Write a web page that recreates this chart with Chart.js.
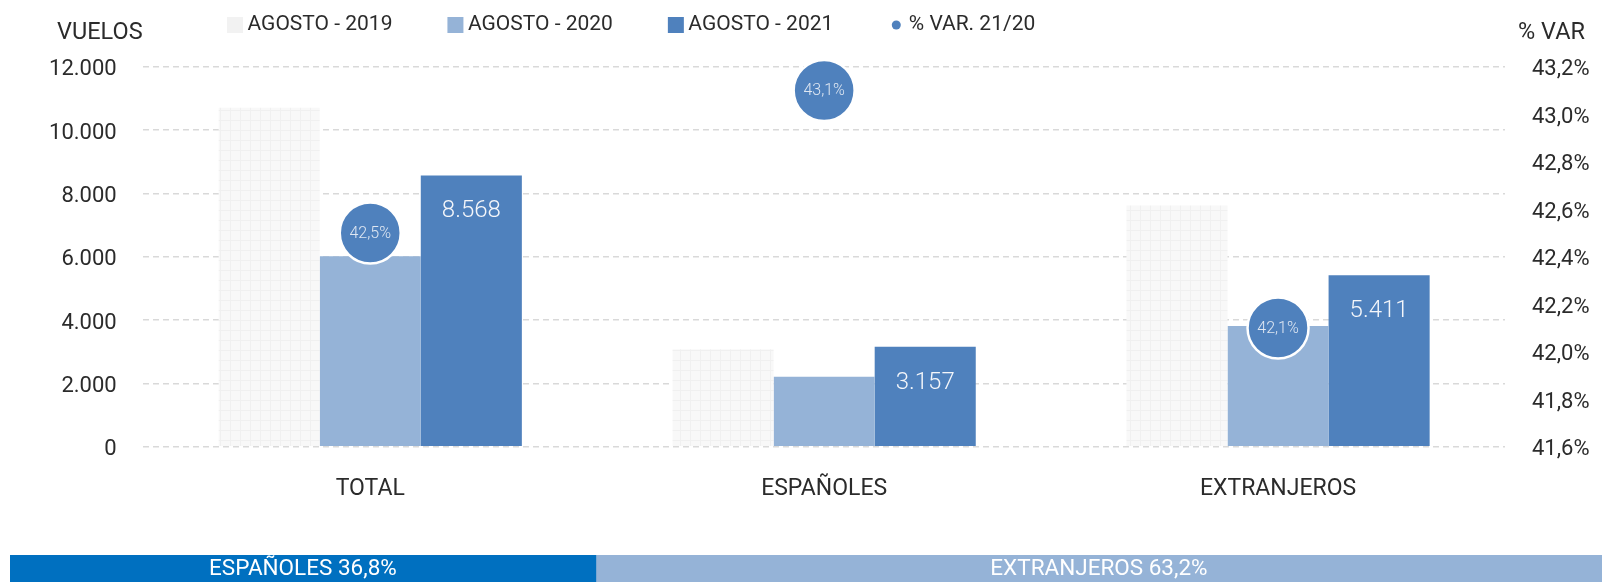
<!DOCTYPE html>
<html lang="es">

<head>
    <meta charset="UTF-8">
    <title>Vuelos agosto</title>
    <script src="https://cdn.jsdelivr.net/npm/chart.js"></script>
    <style>
        body {
            margin: 0;
            background: white;
            width: 1602px;
            height: 582px;
            overflow: hidden;
            position: relative;
        }

        .main-box {
            position: absolute;
            left: 0;
            top: 0;
            width: 1602px;
            height: 530px;
        }

        .strip-box {
            position: absolute;
            left: 10px;
            top: 555px;
            width: 1592px;
            height: 27px;
        }
    </style>
</head>

<body>
    <div class="main-box"><canvas id="vuelosChart"></canvas></div>
    <div class="strip-box"><canvas id="shareChart"></canvas></div>

    <script>
        // data
        const categories = ['TOTAL', 'ESPAÑOLES', 'EXTRANJEROS'];
        const seriesNames = ['AGOSTO - 2019', 'AGOSTO - 2020', 'AGOSTO - 2021', '% VAR. 21/20'];
        const vuelos2019 = [10700, 3080, 7620];
        const vuelos2020 = [6013, 2206, 3808];
        const vuelos2021 = [8568, 3157, 5411];
        const varPct = [42.5, 43.1, 42.1];

        const shareLabels = ['ESPAÑOLES', 'EXTRANJEROS'];
        const shareValues = [36.8, 63.2];

        const FONT = 'Roboto, "Liberation Sans", sans-serif';
        const TEXT = '#2b2b2b';
        const BLUE = '#4f81bd';
        const LIGHT_BLUE = '#95b3d7';

        function fmtMiles(v) {
            return String(Math.round(v)).replace(/\B(?=(\d{3})+(?!\d))/g, '.');
        }
        function fmtPct(v) {
            return v.toFixed(1).replace('.', ',') + '%';
        }

        // faint grid texture for the 2019 bars
        function gridPattern() {
            const c = document.createElement('canvas');
            c.width = 10;
            c.height = 10;
            const g = c.getContext('2d');
            g.fillStyle = '#f8f8f8';
            g.fillRect(0, 0, 10, 10);
            g.fillStyle = '#f0f0f0';
            g.fillRect(0, 0, 10, 1);
            g.fillRect(0, 0, 1, 10);
            return g.createPattern(c, 'repeat');
        }

        const decor = {
            id: 'decor',
            afterDatasetsDraw(chart) {
                const ctx = chart.ctx;
                ctx.save();

                // values inside the 2021 bars
                const meta21 = chart.getDatasetMeta(2);
                ctx.fillStyle = '#f4f6fa';
                ctx.font = '300 24px ' + FONT;
                ctx.textAlign = 'center';
                ctx.textBaseline = 'middle';
                meta21.data.forEach((bar, i) => {
                    ctx.fillText(fmtMiles(vuelos2021[i]), bar.x, bar.y + 36);
                });

                // labels in the circles
                const metaVar = chart.getDatasetMeta(3);
                ctx.fillStyle = '#dfe7f2';
                ctx.font = '300 16px ' + FONT;
                metaVar.data.forEach((pt, i) => {
                    ctx.fillText(fmtPct(varPct[i]), pt.x, pt.y + 1);
                });

                // axis captions
                ctx.fillStyle = TEXT;
                ctx.font = '23.5px ' + FONT;
                ctx.textAlign = 'left';
                ctx.fillText('VUELOS', 57, 33);
                ctx.fillText('% VAR', 1518, 33);

                // legend
                ctx.font = '21px ' + FONT;
                let x = 227;
                const y = 25;
                chart.data.datasets.forEach((ds, i) => {
                    if (ds.type === 'line') {
                        x += 8;
                        ctx.fillStyle = BLUE;
                        ctx.beginPath();
                        ctx.arc(x, y, 4.5, 0, Math.PI * 2);
                        ctx.fill();
                        x += 12.5;
                    } else {
                        ctx.fillStyle = i === 0 ? '#f2f2f2' : ds.legendColor;
                        ctx.fillRect(x, y - 8, 16, 16);
                        x += 20.5;
                    }
                    ctx.fillStyle = TEXT;
                    ctx.fillText(ds.label, x, y);
                    x += ctx.measureText(ds.label).width + 55;
                });

                ctx.restore();
            }
        };

        new Chart(document.getElementById('vuelosChart'), {
            type: 'bar',
            data: {
                labels: categories,
                datasets: [
                    {
                        label: seriesNames[0],
                        data: vuelos2019,
                        backgroundColor: gridPattern(),
                        yAxisID: 'y',
                        order: 1
                    },
                    {
                        label: seriesNames[1],
                        data: vuelos2020,
                        backgroundColor: LIGHT_BLUE,
                        legendColor: LIGHT_BLUE,
                        yAxisID: 'y',
                        order: 1
                    },
                    {
                        label: seriesNames[2],
                        data: vuelos2021,
                        backgroundColor: BLUE,
                        legendColor: BLUE,
                        yAxisID: 'y',
                        order: 1
                    },
                    {
                        type: 'line',
                        label: seriesNames[3],
                        data: varPct,
                        yAxisID: 'y1',
                        showLine: false,
                        pointRadius: 30.5,
                        pointBackgroundColor: BLUE,
                        pointBorderColor: '#ffffff',
                        pointBorderWidth: 2.5,
                        clip: false,
                        order: 0
                    }
                ]
            },
            options: {
                responsive: true,
                maintainAspectRatio: false,
                animation: false,
                layout: { padding: { top: 66.7, left: 0, right: 0, bottom: 0 } },
                datasets: {
                    bar: { categoryPercentage: 0.668, barPercentage: 1 }
                },
                plugins: {
                    legend: { display: false },
                    tooltip: { enabled: false }
                },
                scales: {
                    x: {
                        grid: { display: false },
                        border: { display: false },
                        ticks: {
                            color: TEXT,
                            font: { family: FONT, size: 23 },
                            padding: 21
                        },
                        afterFit(scale) { scale.height = 83.3; }
                    },
                    y: {
                        position: 'left',
                        min: 0,
                        max: 12000,
                        ticks: {
                            stepSize: 2000,
                            color: TEXT,
                            font: { family: FONT, size: 22 },
                            padding: 26.6,
                            labelOffset: 3,
                            callback: v => fmtMiles(v)
                        },
                        grid: {
                            color: '#d9d9d9',
                            lineWidth: 1.5,
                            drawTicks: false
                        },
                        border: { display: false, dash: [6, 4] },
                        afterFit(scale) { scale.width = 143.3; }
                    },
                    y1: {
                        position: 'right',
                        min: 41.6,
                        max: 43.2,
                        ticks: {
                            stepSize: 0.2,
                            color: TEXT,
                            font: { family: FONT, size: 22 },
                            padding: 27,
                            labelOffset: 3,
                            callback: v => fmtPct(v)
                        },
                        grid: { drawOnChartArea: false, drawTicks: false },
                        border: { display: false },
                        afterFit(scale) { scale.width = 97; }
                    }
                }
            },
            plugins: [decor]
        });

        // bottom strip with the share of each group
        const stripLabels = {
            id: 'stripLabels',
            afterDatasetsDraw(chart) {
                const ctx = chart.ctx;
                ctx.save();
                ctx.fillStyle = '#ffffff';
                ctx.font = '22.5px ' + FONT;
                ctx.textAlign = 'center';
                ctx.textBaseline = 'middle';
                chart.data.datasets.forEach((ds, i) => {
                    const bar = chart.getDatasetMeta(i).data[0];
                    const cx = (bar.x + bar.base) / 2;
                    ctx.fillText(ds.label + ' ' + fmtPct(ds.data[0]), cx, bar.y + 1);
                });
                ctx.restore();
            }
        };

        new Chart(document.getElementById('shareChart'), {
            type: 'bar',
            data: {
                labels: [''],
                datasets: [
                    { label: shareLabels[0], data: [shareValues[0]], backgroundColor: '#0070c0' },
                    { label: shareLabels[1], data: [shareValues[1]], backgroundColor: LIGHT_BLUE }
                ]
            },
            options: {
                indexAxis: 'y',
                responsive: true,
                maintainAspectRatio: false,
                animation: false,
                layout: { padding: 0 },
                datasets: { bar: { categoryPercentage: 1, barPercentage: 1 } },
                plugins: { legend: { display: false }, tooltip: { enabled: false } },
                scales: {
                    x: { stacked: true, min: 0, max: 100, display: false },
                    y: { stacked: true, display: false }
                }
            },
            plugins: [stripLabels]
        });
    </script>
</body>

</html>
